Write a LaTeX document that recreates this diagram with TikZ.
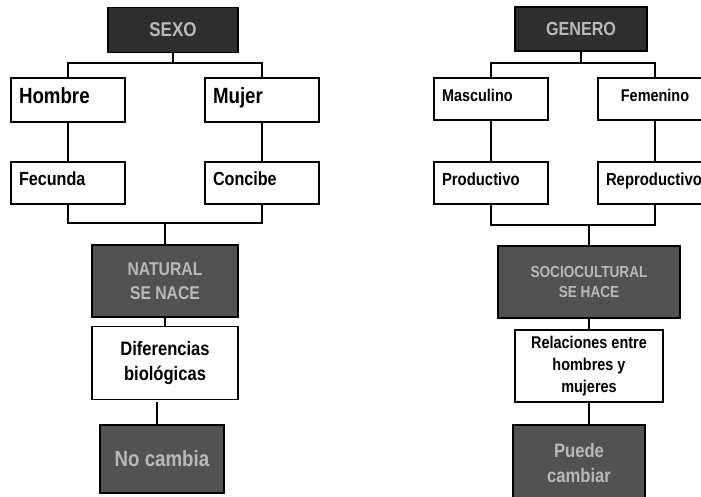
\documentclass[tikz,border=0pt]{standalone}
\usepackage{fontspec}
\setmainfont{Liberation Sans}[FakeStretch=0.85]
\newcommand\boxLineWidth{1.3pt}
\newcommand\lineWidth{1.3pt}
\newcommand\thickLineWidth{2.2pt}
\newcommand\darkColor{black!82}
\newcommand\midColor{black!68}
\newcommand\darkText{black!28}
\newcommand\fs[1]{\fontsize{#1}{1.3\dimexpr#1\relax}\selectfont\bfseries}

\begin{document}
\begin{tikzpicture}[x=1pt, y=-1pt,
    lightBox/.style={draw=black, line width=\boxLineWidth, fill=white, shape=rectangle,
        minimum width=114pt, minimum height=44pt, inner xsep=8pt, anchor=center},
    leftBox/.style={lightBox, text width=98pt, align=left, text height=0.75em, text depth=0.22em},
    darkBox/.style={draw=black, line width=\boxLineWidth, fill=\midColor, text=\darkText,
        shape=rectangle, align=center, anchor=center},
    link/.style={draw=black, line width=\lineWidth},
    thickLink/.style={draw=black, line width=\thickLineWidth}]

    \useasboundingbox (0,0) rectangle (701,497);

%Part One
    \node (Sexo) [darkBox, fill=\darkColor, minimum width=130pt, minimum height=45pt, font=\fs{20pt}] at (173,30) {SEXO};
    \node (Hombre) [leftBox, text height=1em, font=\fs{22pt}] at (68,100) {Hombre};
    \node (Mujer) [leftBox, text height=1em, font=\fs{22pt}] at (262,100) {Mujer};
    \node (Fecunda) [leftBox, minimum height=42pt, font=\fs{19pt}] at (68,183) {Fecunda};
    \node (Concibe) [leftBox, minimum height=42pt, font=\fs{19pt}] at (262,183) {Concibe};
    \node (Natural) [darkBox, minimum width=146pt, minimum height=72pt, font=\fs{18.5pt}] at (165,281) {NATURAL\\SE NACE};
    \node (Diferencias) [lightBox, minimum width=146pt, minimum height=73pt, align=center, font=\fs{19.5pt}] at (165,363) {Diferencias\\biológicas};
    \node (NoCambia) [darkBox, minimum width=124pt, minimum height=68pt, font=\fs{22pt}] at (162,459) {No cambia};

    \coordinate (SexoBar) at (173,63);
    \coordinate (SexoBase) at (165,223);
    \coordinate (NoCambiaTop) at (157,402);

    \draw [link] (Sexo.south) -- (SexoBar);
    \draw [link] (Hombre.north) |- (SexoBar) -| (Mujer.north);
    \draw [link] (Hombre.south) -- (Fecunda.north);
    \draw [link] (Mujer.south) -- (Concibe.north);
    \draw [link] (Fecunda.south) |- (SexoBase) -| (Concibe.south);
    \draw [thickLink] (SexoBase) -- (Natural.north);
    \draw [link] (Natural.south) -- (Diferencias.north);
    \draw [thickLink] (NoCambiaTop) -- (NoCambiaTop |- NoCambia.north);

%Part Two
    \node (Genero) [darkBox, fill=\darkColor, minimum width=132pt, minimum height=44pt, font=\fs{19pt}] at (581,29) {GENERO};
    \node (Masculino) [leftBox, minimum height=42pt, font=\fs{17pt}] at (491,99) {Masculino};
    \node (Femenino) [lightBox, minimum height=42pt, text height=0.75em, text depth=0.22em, font=\fs{17pt}] at (655,99) {Femenino};
    \node (Productivo) [leftBox, minimum height=42pt, font=\fs{17.5pt}] at (491,183) {Productivo};
    \node (Reproductivo) [leftBox, minimum height=42pt, font=\fs{17.5pt}] at (655,183) {Reproductivo};
    \node (Sociocultural) [darkBox, minimum width=182pt, minimum height=72pt, font=\fs{16pt}] at (589,282) {SOCIOCULTURAL\\SE HACE};
    \node (Relaciones) [lightBox, minimum width=148pt, minimum height=72pt, align=center, font=\fs{17pt}] at (589,366) {Relaciones entre\\hombres y\\mujeres};
    \node (PuedeCambiar) [darkBox, minimum width=132pt, minimum height=76pt, font=\fs{19.5pt}] at (579,463) {Puede\\cambiar};

    \coordinate (GeneroBar) at (581,63);
    \coordinate (GeneroBase) at (589,225);

    \draw [link] (Genero.south) -- (GeneroBar);
    \draw [link] (Masculino.north) |- (GeneroBar) -| (Femenino.north);
    \draw [link] (Masculino.south) -- (Productivo.north);
    \draw [link] (Femenino.south) -- (Reproductivo.north);
    \draw [link] (Productivo.south) |- (GeneroBase) -| (Reproductivo.south);
    \draw [thickLink] (GeneroBase) -- (Sociocultural.north);
    \draw [link] (Sociocultural.south) -- (Relaciones.north);
    \draw [link] (Relaciones.south) -- (Relaciones.south |- PuedeCambiar.north);

\end{tikzpicture}
\end{document}
